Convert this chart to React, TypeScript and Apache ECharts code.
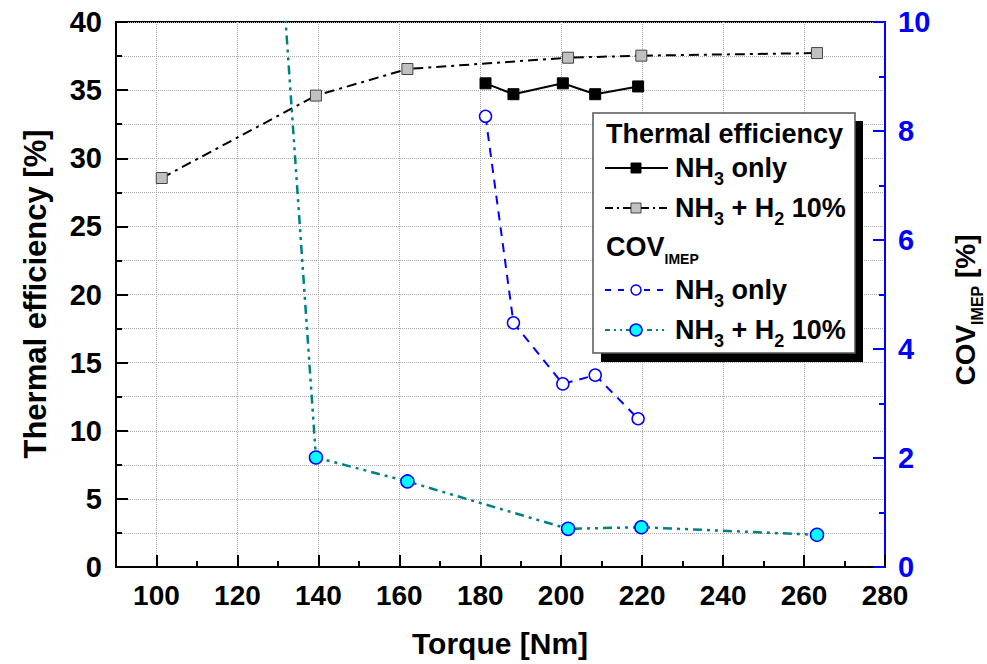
import React, { useEffect, useRef } from "react";
import * as echarts from "echarts";

const xTicks = [100, 120, 140, 160, 180, 200, 220, 240, 260, 280];
const torqueNH3 = [181.3, 188.2, 200.4, 208.4, 219.0];
const effNH3 = [35.5, 34.7, 35.5, 34.7, 35.27];
const covNH3 = [8.27, 4.48, 3.36, 3.52, 2.72];
const torqueH2 = [101.3, 139.4, 162.0, 201.7, 219.8, 263.2];
const effH2 = [28.55, 34.6, 36.55, 37.38, 37.53, 37.72];
const covH2 = [42.7, 2.01, 1.57, 0.7, 0.73, 0.59];

const FONT = "'Liberation Sans', Arial, sans-serif";
const NARROW = "'Liberation Sans Narrow', 'Liberation Sans', Arial, sans-serif";
const BLUE = "#0000ff";
const TEAL = "#008080";

const pair = (xs: number[], ys: number[]) => xs.map((x, i) => [x, ys[i]]);

const richLegend = {
  a: { fontFamily: FONT, fontWeight: "bold", fontSize: 27, lineHeight: 30, color: "#000" },
  s: {
    fontFamily: FONT,
    fontWeight: "bold",
    fontSize: 18,
    lineHeight: 30,
    verticalAlign: "top",
    padding: [17, 0, 0, 0],
    color: "#000",
  },
};

function legendRow(y: number, lineDash: any, lineColor: string, marker: any, label: string) {
  return [
    {
      type: "line",
      shape: { x1: 605, y1: y, x2: 668, y2: y },
      style: { stroke: lineColor, lineWidth: 2, lineDash },
      z: 110,
    },
    { ...marker, z: 111 },
    {
      type: "text",
      x: 675,
      y: y - 15,
      style: { text: label, rich: richLegend, verticalAlign: "top", align: "left" },
      z: 111,
    },
  ];
}

export default function App() {
  const ref = useRef<HTMLDivElement>(null);
  useEffect(() => {
    const chart = echarts.init(ref.current!, null, { renderer: "svg" });
    const gridLine = { show: true, lineStyle: { color: "#aaa", type: "dotted", width: 1 } };
    const option: any = {
      animation: false,
      backgroundColor: "#fff",
      grid: { left: 116, right: 102, top: 22, bottom: 97, show: true, borderColor: "#000", borderWidth: 2 },
      xAxis: [
        {
          type: "value",
          min: 90,
          max: 280,
          interval: 10,
          axisLine: { show: true, lineStyle: { color: "#000", width: 2 } },
          axisTick: { show: true, inside: true, length: 12, lineStyle: { width: 2, color: "#000" }, customValues: xTicks },
          axisLabel: {
            customValues: xTicks,
            fontFamily: NARROW,
            fontWeight: "bold",
            fontSize: 28,
            color: "#000",
            margin: 14,
          },
          splitLine: gridLine,
        },
        {
          type: "value",
          min: 90,
          max: 280,
          interval: 10,
          position: "bottom",
          axisLine: { show: false },
          axisTick: { show: true, inside: true, length: 6, lineStyle: { width: 2, color: "#000" } },
          axisLabel: { show: false },
          splitLine: { show: false },
        },
      ],
      yAxis: [
        {
          type: "value",
          min: 0,
          max: 40,
          interval: 5,
          position: "left",
          axisLine: { show: true, lineStyle: { color: "#000", width: 2 } },
          axisTick: { show: true, inside: true, length: 12, lineStyle: { width: 2, color: "#000" } },
          minorTick: { show: true, splitNumber: 2, length: 6, lineStyle: { width: 2, color: "#000" } },
          axisLabel: { fontFamily: FONT, fontWeight: "bold", fontSize: 29, color: "#000", margin: 14 },
          splitLine: gridLine,
          minorSplitLine: gridLine,
        },
        {
          type: "value",
          min: 0,
          max: 10,
          interval: 2,
          position: "right",
          axisLine: { show: true, lineStyle: { color: BLUE, width: 2 } },
          axisTick: { show: true, inside: true, length: 12, lineStyle: { width: 2, color: BLUE } },
          minorTick: { show: true, splitNumber: 2, length: 6, lineStyle: { width: 2, color: BLUE } },
          axisLabel: { fontFamily: FONT, fontWeight: "bold", fontSize: 29, color: BLUE, margin: 13 },
          splitLine: { show: false },
        },
      ],
      series: [
        {
          name: "Thermal NH3 only",
          type: "line",
          xAxisIndex: 0,
          yAxisIndex: 0,
          data: pair(torqueNH3, effNH3),
          symbol: "rect",
          symbolSize: 11,
          itemStyle: { color: "#000", borderColor: "#000", borderWidth: 1 },
          lineStyle: { color: "#000", width: 2, type: "solid" },
          z: 5,
        },
        {
          name: "Thermal NH3 + H2 10%",
          type: "line",
          xAxisIndex: 0,
          yAxisIndex: 0,
          data: pair(torqueH2, effH2),
          symbol: "rect",
          symbolSize: 11,
          itemStyle: { color: "#c0c0c0", borderColor: "#444", borderWidth: 1 },
          lineStyle: { color: "#000", width: 2, type: [10, 5, 3, 5] },
          z: 5,
        },
        {
          name: "COV NH3 only",
          type: "line",
          xAxisIndex: 0,
          yAxisIndex: 1,
          data: pair(torqueNH3, covNH3),
          symbol: "circle",
          symbolSize: 12,
          itemStyle: { color: "#fff", borderColor: BLUE, borderWidth: 1.5 },
          lineStyle: { color: BLUE, width: 2, type: [9, 7] },
          z: 5,
        },
        {
          name: "COV NH3 + H2 10%",
          type: "line",
          xAxisIndex: 0,
          yAxisIndex: 1,
          data: pair(torqueH2, covH2),
          symbol: "circle",
          symbolSize: 13,
          clip: true,
          itemStyle: { color: "#00ffff", borderColor: BLUE, borderWidth: 1.5 },
          lineStyle: { color: TEAL, width: 2.5, type: [9, 5, 3, 5, 3, 5] },
          z: 5,
        },
      ],
      graphic: [
        {
          type: "text",
          x: 35,
          y: 294,
          rotation: Math.PI / 2,
          style: {
            text: "Thermal efficiency [%]",
            fontFamily: FONT,
            fontWeight: "bold",
            fontSize: 31,
            fill: "#000",
            align: "center",
            verticalAlign: "middle",
          },
        },
        {
          type: "text",
          x: 950,
          y: 310,
          rotation: Math.PI / 2,
          style: {
            text: "{a|COV}{s|IMEP}{a| [%]}",
            rich: {
              a: { fontFamily: FONT, fontWeight: "bold", fontSize: 28, lineHeight: 30, color: "#000" },
              s: {
                fontFamily: FONT,
                fontWeight: "bold",
                fontSize: 16,
                lineHeight: 30,
                verticalAlign: "top",
                padding: [19, 0, 0, 0],
                color: "#000",
              },
            },
            align: "center",
            verticalAlign: "top",
          },
        },
        {
          type: "text",
          x: 500,
          y: 643,
          style: {
            text: "Torque [Nm]",
            fontFamily: NARROW,
            fontWeight: "bold",
            fontSize: 30,
            fill: "#000",
            align: "center",
            verticalAlign: "middle",
          },
        },
        // legend box
        { type: "rect", shape: { x: 601, y: 121, width: 262, height: 241 }, style: { fill: "#000" }, z: 100 },
        {
          type: "rect",
          shape: { x: 593, y: 113, width: 262, height: 240 },
          style: { fill: "#fff", stroke: "#555", lineWidth: 1.5 },
          z: 101,
        },
        {
          type: "text",
          x: 606,
          y: 134,
          style: { text: "{a|Thermal efficiency}", rich: richLegend, verticalAlign: "middle", align: "left" },
          z: 111,
        },
        ...legendRow(168, null, "#000", {
          type: "rect",
          shape: { x: 631, y: 163, width: 10, height: 10 },
          style: { fill: "#000", stroke: "#000", lineWidth: 1 },
        }, "{a|NH}{s|3}{a| only}"),
        ...legendRow(208, [8, 4, 2, 4], "#000", {
          type: "rect",
          shape: { x: 631, y: 203, width: 10, height: 10 },
          style: { fill: "#c0c0c0", stroke: "#444", lineWidth: 1 },
        }, "{a|NH}{s|3}{a| + H}{s|2}{a| 10%}"),
        {
          type: "text",
          x: 606,
          y: 232,
          style: {
            text: "{a|COV}{s|IMEP}",
            rich: {
              a: { fontFamily: FONT, fontWeight: "bold", fontSize: 27, lineHeight: 30, color: "#000" },
              s: {
                fontFamily: FONT,
                fontWeight: "bold",
                fontSize: 14,
                lineHeight: 30,
                verticalAlign: "top",
                padding: [20, 0, 0, 0],
                color: "#000",
              },
            },
            verticalAlign: "top",
            align: "left",
          },
          z: 111,
        },
        ...legendRow(290, [6, 7], BLUE, {
          type: "circle",
          shape: { cx: 636, cy: 290, r: 5 },
          style: { fill: "#fff", stroke: BLUE, lineWidth: 1.5 },
        }, "{a|NH}{s|3}{a| only}"),
        ...legendRow(330, [5, 4, 2, 4, 2, 4], TEAL, {
          type: "circle",
          shape: { cx: 636, cy: 330, r: 6 },
          style: { fill: "#00ffff", stroke: BLUE, lineWidth: 1.5 },
        }, "{a|NH}{s|3}{a| + H}{s|2}{a| 10%}"),
      ],
    };
    chart.setOption(option);
    return () => chart.dispose();
  }, []);
  return <div ref={ref} style={{ width: 987, height: 664, position: "absolute", left: 0, top: 0 }} />;
}
